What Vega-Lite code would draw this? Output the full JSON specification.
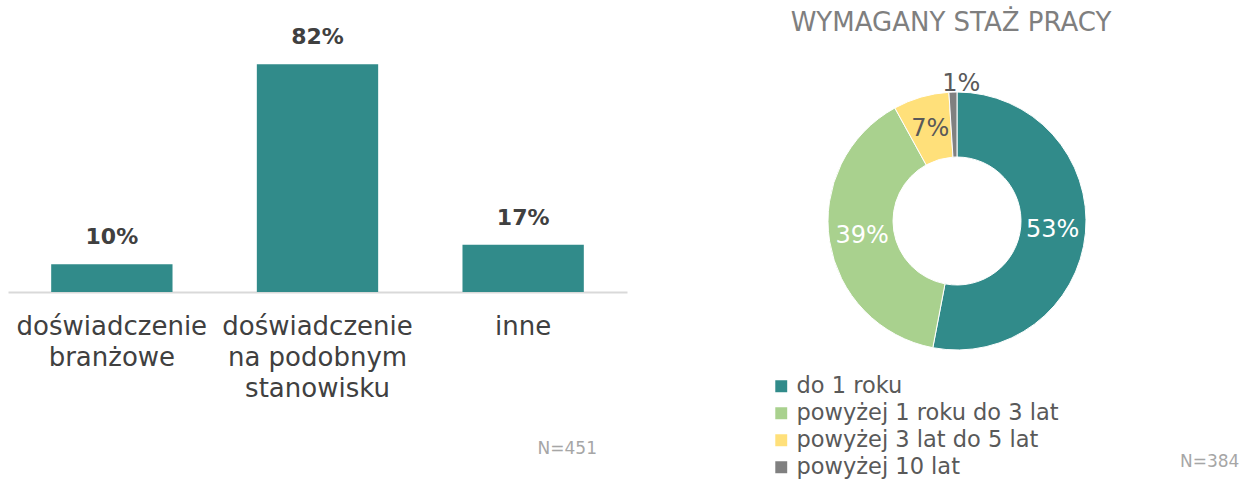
{
  "$schema": "https://vega.github.io/schema/vega-lite/v6.json",
  "background": "white",
  "padding": {"left": 8, "top": 10, "right": 2, "bottom": 0},
  "bounds": "flush",
  "config": {"view": {"stroke": null}, "font": "DejaVu Sans"},
  "spacing": 200,
  "hconcat": [
    {
      "width": 619,
      "height": 250,
      "title": {"text": "N=451", "orient": "bottom", "anchor": "end", "dx": -30, "offset": 40, "fontSize": 17, "fontWeight": "normal", "color": "#A6A6A6"},
      "data": {"values": [
        {"kategoria": "doświadczenie|branżowe", "wartosc": 0.10},
        {"kategoria": "doświadczenie|na podobnym|stanowisku", "wartosc": 0.82},
        {"kategoria": "inne", "wartosc": 0.17}
      ]},
      "encoding": {
        "x": {"field": "kategoria", "type": "nominal", "sort": null, "title": null,
          "scale": {"paddingInner": 0.41, "paddingOuter": 0.21},
          "axis": {"labelAngle": 0, "ticks": false, "domainColor": "#D9D9D9", "domainWidth": 2, "labelFontSize": 26, "labelColor": "#404040", "labelPadding": 21, "labelLimit": 400, "labelLineHeight": 31, "labelExpr": "split(datum.label, '|')"}},
        "y": {"field": "wartosc", "type": "quantitative", "scale": {"domain": [0, 0.9]}, "axis": null}
      },
      "layer": [
        {"mark": {"type": "bar", "color": "#318B8A"}},
        {"mark": {"type": "text", "baseline": "bottom", "dy": -15, "fontSize": 22, "fontWeight": "bold", "color": "#404040"},
         "encoding": {"text": {"field": "wartosc", "type": "quantitative", "format": ".0%"}}}
      ]
    },
    {
      "width": 260,
      "height": 358,
      "title": {"text": "WYMAGANY STAŻ PRACY", "anchor": "middle", "dx": -6, "fontSize": 26, "fontWeight": "normal", "color": "#7F7F7F", "offset": 6},
      "data": {"values": [
        {"staz": "do 1 roku", "udzial": 0.53, "lp": 1},
        {"staz": "powyżej 1 roku do 3 lat", "udzial": 0.39, "lp": 2},
        {"staz": "powyżej 3 lat do 5 lat", "udzial": 0.07, "lp": 3},
        {"staz": "powyżej 10 lat", "udzial": 0.01, "lp": 4}
      ]},
      "encoding": {
        "theta": {"field": "udzial", "type": "quantitative", "stack": true},
        "order": {"field": "lp", "type": "quantitative"}
      },
      "layer": [
        {"mark": {"type": "arc", "innerRadius": 64, "outerRadius": 129, "stroke": "white", "strokeWidth": 1},
         "encoding": {"color": {"field": "staz", "type": "nominal", "sort": null,
          "scale": {"domain": ["do 1 roku", "powyżej 1 roku do 3 lat", "powyżej 3 lat do 5 lat", "powyżej 10 lat"], "range": ["#318B8A", "#A9D18E", "#FFE07A", "#808080"]},
          "legend": {"title": null, "orient": "none", "legendX": 762, "legendY": 333, "symbolType": "square", "symbolSize": 180, "labelFontSize": 22.5, "labelColor": "#595959", "rowPadding": 4, "labelOffset": 4, "labelLimit": 400}}}},
        {"transform": [{"filter": "datum.udzial >= 0.05"}],
         "mark": {"type": "text", "radius": 96, "fontSize": 24},
         "encoding": {"text": {"field": "udzial", "type": "quantitative", "format": ".0%"},
           "color": {"condition": {"test": "datum.udzial > 0.2", "value": "white"}, "value": "#595959"}}},
        {"transform": [{"filter": "datum.udzial < 0.05"}],
         "mark": {"type": "text", "radius": 137, "fontSize": 24},
         "encoding": {"text": {"field": "udzial", "type": "quantitative", "format": ".0%"},
           "color": {"value": "#595959"}}}
      ]
    }
  ],
  "title": {"text": "N=384", "orient": "bottom", "anchor": "end", "dx": 128, "fontSize": 17, "fontWeight": "normal", "color": "#A6A6A6", "offset": -25}
}
